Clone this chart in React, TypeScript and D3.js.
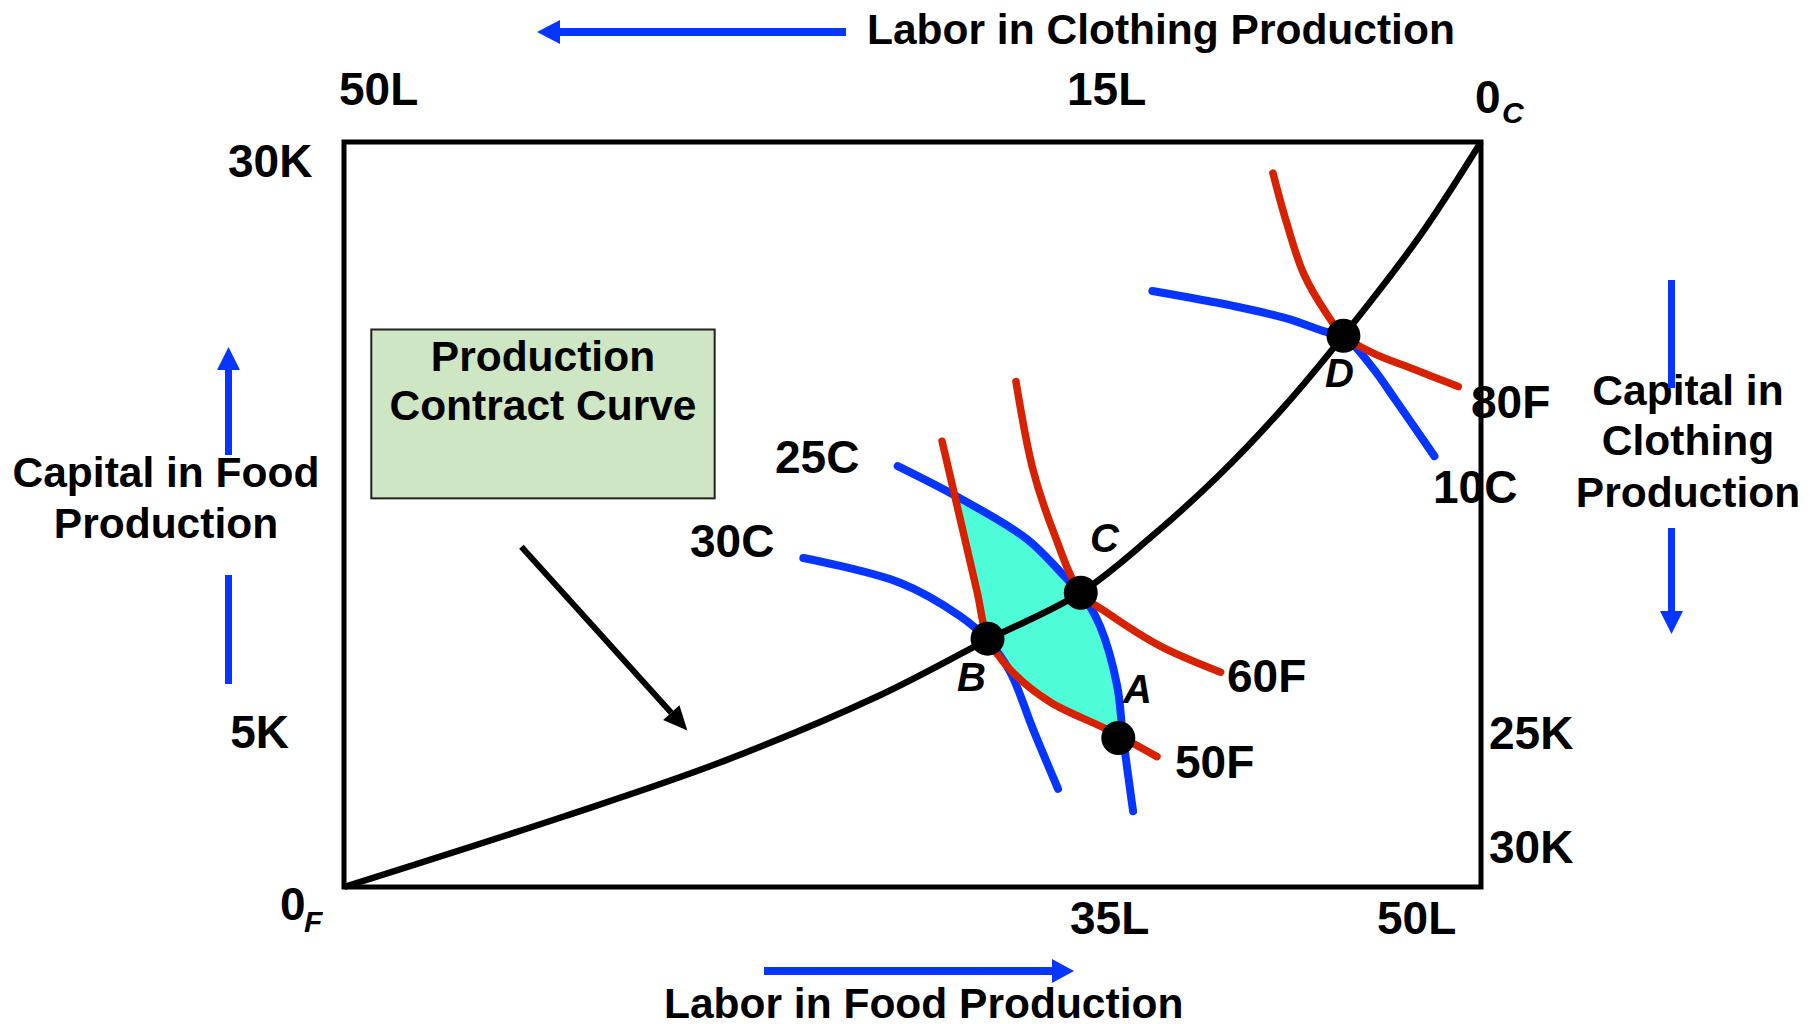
import React from "react";
import * as d3 from "d3";

// Edgeworth box data: labor in food (L, 0..50) on x, capital in food (K, 0..30) on y
const contractCurve: [number, number][] = [
  [0, 0], [9.7, 2.85], [16.5, 5.0], [23.4, 7.65], [28.3, 9.95], [32.4, 11.85],
  [35.5, 14.1], [38.5, 16.6], [41.3, 19.3], [43.95, 22.2], [47.3, 26.2], [50, 30],
];

// food isoquants (red)
const food50: [number, number][] = [
  [26.3, 17.95], [27.0, 15.2], [27.85, 11.85], [28.3, 10.05], [29.3, 8.75],
  [31.05, 7.45], [33.55, 6.35], [35.75, 5.25],
];
const food60: [number, number][] = [
  [29.55, 20.35], [30.3, 16.8], [31.2, 14.3], [32.4, 11.85], [33.55, 11.05],
  [35.9, 9.7], [38.55, 8.65],
];
const food80: [number, number][] = [
  [40.85, 28.75], [41.45, 26.75], [42.2, 24.7], [43.2, 23.1], [43.95, 22.2],
  [45.25, 21.5], [47.05, 20.85], [49.0, 20.15],
];

// clothing isoquants (blue)
const cloth10: [number, number][] = [
  [35.55, 24.0], [39.1, 23.4], [41.45, 22.9], [43.2, 22.35], [43.95, 22.2],
  [45.2, 20.95], [46.25, 19.6], [47.95, 17.35],
];
const cloth25: [number, number][] = [
  [24.35, 16.95], [27.0, 15.7], [30.05, 14.0], [31.8, 12.4], [32.4, 11.85],
  [33.25, 10.5], [34.0, 8.1], [34.25, 6.1], [34.7, 3.05],
];
const cloth30: [number, number][] = [
  [20.2, 13.25], [24.45, 12.25], [27.1, 10.9], [28.3, 9.95], [29.3, 8.65],
  [30.3, 6.35], [31.4, 3.95],
];

const pointNames = ["A", "B", "C", "D"];
const pointL = [34.05, 28.3, 32.4, 43.95];
const pointK = [6.0, 10.0, 11.85, 22.2];

const RED = "#d62200";
const BLUE = "#0535ff";
const FONT = "'Liberation Sans', Arial, sans-serif";

const App = () => {
  const width = 1813;
  const height = 1024;

  const x = d3.scaleLinear().domain([0, 50]).range([344, 1481]);
  const y = d3.scaleLinear().domain([0, 30]).range([887, 142]);

  const line = d3
    .line<[number, number]>()
    .x((d) => x(d[0]))
    .y((d) => y(d[1]))
    .curve(d3.curveCatmullRom.alpha(0.5));

  // lens between 50F and 25C (A up to the top crossing)
  const lensTop = cloth25.filter((d) => d[0] >= 27 && d[1] >= 6);
  const lensBottom = food50
    .filter((d) => d[0] <= pointL[0] && d[1] <= 15.7)
    .slice()
    .reverse();
  const lensPath = line([...lensTop, [pointL[0], pointK[0]], ...lensBottom]) + "Z";

  // pointer arrow from the label box to the curve
  const ptrFrom = [x(7.8), y(13.7)];
  const ptrTo = [x(15.1), y(6.3)];
  const ang = Math.atan2(ptrTo[1] - ptrFrom[1], ptrTo[0] - ptrFrom[0]);
  const headLen = 24;
  const headW = 11;
  const bx = ptrTo[0] - headLen * Math.cos(ang);
  const by = ptrTo[1] - headLen * Math.sin(ang);
  const ptrHead = [
    [ptrTo[0], ptrTo[1]],
    [bx + headW * Math.sin(ang), by - headW * Math.cos(ang)],
    [bx - headW * Math.sin(ang), by + headW * Math.cos(ang)],
  ]
    .map((p) => p.join(","))
    .join(" ");

  const txt = { fontFamily: FONT, fontWeight: 700 as const, fill: "#000" };

  return (
    <svg
      width={width}
      height={height}
      style={{ position: "absolute", left: 0, top: 0, background: "#fff" }}
    >
      {/* top: labor in clothing */}
      <text x={867} y={44} fontSize={42.5} {...txt}>Labor in Clothing Production</text>
      <line x1={846} y1={32} x2={556} y2={32} stroke={BLUE} strokeWidth={8} />
      <polygon points="537,32 560,20 560,44" fill={BLUE} />

      <text x={339} y={105} fontSize={46} {...txt}>50L</text>
      <text x={1067} y={105} fontSize={46} {...txt}>15L</text>
      <text x={1475} y={113} fontSize={46} {...txt}>0</text>
      <text x={1502} y={123} fontSize={30} fontStyle="italic" {...txt}>C</text>

      {/* left: capital in food */}
      <text x={228} y={177} fontSize={46} {...txt}>30K</text>
      <text x={289} y={748} fontSize={46} textAnchor="end" {...txt}>5K</text>
      <text x={166} y={487} fontSize={42.5} textAnchor="middle" {...txt}>Capital in Food</text>
      <text x={166} y={538} fontSize={42.5} textAnchor="middle" {...txt}>Production</text>
      <line x1={228.5} y1={455} x2={228.5} y2={366} stroke={BLUE} strokeWidth={7} />
      <polygon points="228.5,347 217,370 240,370" fill={BLUE} />
      <line x1={228.5} y1={575} x2={228.5} y2={684} stroke={BLUE} strokeWidth={7} />

      {/* right: capital in clothing */}
      <text x={1688} y={405} fontSize={42.5} textAnchor="middle" {...txt}>Capital in</text>
      <text x={1688} y={455} fontSize={42.5} textAnchor="middle" {...txt}>Clothing</text>
      <text x={1688} y={507} fontSize={42.5} textAnchor="middle" {...txt}>Production</text>
      <line x1={1671.5} y1={280} x2={1671.5} y2={388} stroke={BLUE} strokeWidth={7} />
      <line x1={1671.5} y1={528} x2={1671.5} y2={614} stroke={BLUE} strokeWidth={7} />
      <polygon points="1671.5,634 1660,611 1683,611" fill={BLUE} />
      <text x={1489} y={749} fontSize={46} {...txt}>25K</text>
      <text x={1489} y={863} fontSize={46} {...txt}>30K</text>

      {/* bottom: labor in food */}
      <text x={280} y={920} fontSize={46} {...txt}>0</text>
      <text x={304} y={932} fontSize={30} fontStyle="italic" {...txt}>F</text>
      <text x={1070} y={934} fontSize={46} {...txt}>35L</text>
      <text x={1377} y={934} fontSize={46} {...txt}>50L</text>
      <line x1={764} y1={971} x2={1056} y2={971} stroke={BLUE} strokeWidth={8} />
      <polygon points="1074,971 1052,959 1052,983" fill={BLUE} />
      <text x={664} y={1018} fontSize={42.5} {...txt}>Labor in Food Production</text>

      {/* the box */}
      <rect
        x={x(0)}
        y={y(30)}
        width={x(50) - x(0)}
        height={y(0) - y(30)}
        fill="none"
        stroke="#000"
        strokeWidth={5}
      />

      {/* label box + pointer */}
      <rect
        x={x(1.2)}
        y={y(22.45)}
        width={x(16.3) - x(1.2)}
        height={y(15.65) - y(22.45)}
        fill="#cfe6c4"
        stroke="#222"
        strokeWidth={2}
      />
      <text x={(x(1.2) + x(16.3)) / 2} y={371} fontSize={42.5} textAnchor="middle" {...txt}>Production</text>
      <text x={(x(1.2) + x(16.3)) / 2} y={420} fontSize={42.5} textAnchor="middle" {...txt}>Contract Curve</text>
      <line x1={ptrFrom[0]} y1={ptrFrom[1]} x2={bx} y2={by} stroke="#000" strokeWidth={6} />
      <polygon points={ptrHead} fill="#000" />

      {/* lens of mutual gains */}
      <path d={lensPath} fill="#4ffcd8" stroke="#000" strokeWidth={1.5} />

      {/* isoquants */}
      {[cloth10, cloth25, cloth30].map((c, i) => (
        <path key={"c" + i} d={line(c) || ""} fill="none" stroke={BLUE} strokeWidth={8} strokeLinecap="round" />
      ))}
      {[food50, food60, food80].map((c, i) => (
        <path key={"f" + i} d={line(c) || ""} fill="none" stroke={RED} strokeWidth={7.5} strokeLinecap="round" />
      ))}

      {/* contract curve */}
      <path d={line(contractCurve) || ""} fill="none" stroke="#000" strokeWidth={6.5} />

      {pointNames.map((n, i) => (
        <circle key={n} cx={x(pointL[i])} cy={y(pointK[i])} r={17} fill="#000" />
      ))}

      {/* curve labels */}
      <text x={775} y={473} fontSize={46} {...txt}>25C</text>
      <text x={690} y={557} fontSize={46} {...txt}>30C</text>
      <text x={1227} y={692} fontSize={46} {...txt}>60F</text>
      <text x={1175} y={778} fontSize={46} {...txt}>50F</text>
      <text x={1471} y={418} fontSize={46} {...txt}>80F</text>
      <text x={1433} y={503} fontSize={46} {...txt}>10C</text>

      {/* point labels */}
      <text x={1123} y={703} fontSize={40} fontStyle="italic" {...txt}>A</text>
      <text x={957} y={691} fontSize={40} fontStyle="italic" {...txt}>B</text>
      <text x={1090} y={552} fontSize={40} fontStyle="italic" {...txt}>C</text>
      <text x={1325} y={387} fontSize={40} fontStyle="italic" {...txt}>D</text>
    </svg>
  );
};

export default App;
